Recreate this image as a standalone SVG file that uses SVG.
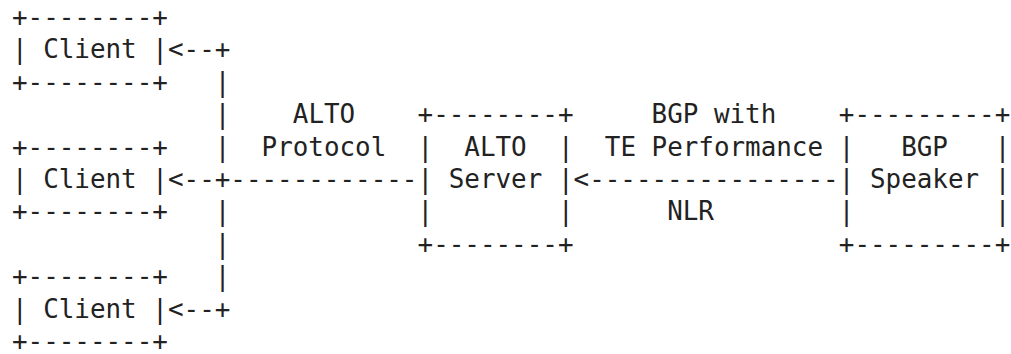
<svg xmlns="http://www.w3.org/2000/svg" width="1011" height="354" viewBox="0 0 1011 354" xml:space="preserve">
<style>
text { font-family: "DejaVu Sans Mono", "Liberation Mono", monospace; font-size: 25.9px; fill: #222; white-space: pre; }
</style>
<rect width="1011" height="354" fill="#fff"/>
<g id="client1">
<text x="12" y="25.9">+--------+</text>
<text x="12" y="58.3">| Client |</text>
<text x="12" y="90.7">+--------+</text>
</g>
<g id="client2">
<text x="12" y="155.5">+--------+</text>
<text x="12" y="187.9">| Client |</text>
<text x="12" y="220.3">+--------+</text>
</g>
<g id="client3">
<text x="12" y="285.1">+--------+</text>
<text x="12" y="317.5">| Client |</text>
<text x="12" y="349.9">+--------+</text>
</g>
<g id="alto-server">
<text x="417.6" y="123.1">+--------+</text>
<text x="417.6" y="155.5">|  ALTO  |</text>
<text x="417.6" y="187.9">| Server |</text>
<text x="417.6" y="220.3">|        |</text>
<text x="417.6" y="252.7">+--------+</text>
</g>
<g id="bgp-speaker">
<text x="838.8" y="123.1">+---------+</text>
<text x="838.8" y="155.5">|   BGP   |</text>
<text x="838.8" y="187.9">| Speaker |</text>
<text x="838.8" y="220.3">|         |</text>
<text x="838.8" y="252.7">+---------+</text>
</g>
<g id="connectors">
<text x="168" y="58.3">&lt;--+</text>
<text x="214.8" y="90.7">|</text>
<text x="214.8" y="123.1">|</text>
<text x="214.8" y="155.5">|</text>
<text x="168" y="187.9">&lt;--+------------</text>
<text x="214.8" y="220.3">|</text>
<text x="214.8" y="252.7">|</text>
<text x="214.8" y="285.1">|</text>
<text x="168" y="317.5">&lt;--+</text>
<text x="573.6" y="187.9">&lt;----------------</text>
</g>
<g id="labels">
<text x="292.8" y="123.1">ALTO</text>
<text x="261.6" y="155.5">Protocol</text>
<text x="651.6" y="123.1">BGP with</text>
<text x="604.8" y="155.5">TE Performance</text>
<text x="667.2" y="220.3">NLR</text>
</g>
</svg>
